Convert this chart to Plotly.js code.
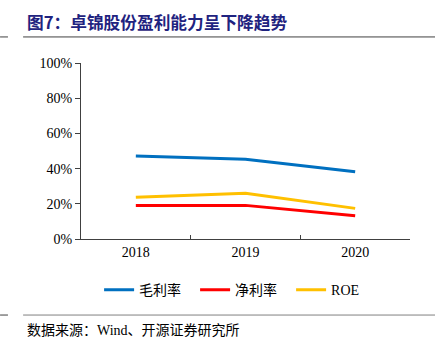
<!DOCTYPE html>
<html><head><meta charset="utf-8">
<script src="https://cdn.plot.ly/plotly-3.0.1.min.js"></script>
<style>html,body{margin:0;padding:0;background:#fff;}#chart{width:443px;height:354px;}</style>
</head><body><div id="chart"></div>
<script>
var years = ['2018', '2019', '2020'];
var grossMargin = [0.472, 0.453, 0.382];
var netMargin = [0.191, 0.191, 0.132];
var roe = [0.237, 0.26, 0.174];
var seriesNames = ['毛利率', '净利率', 'ROE'];
var yTicks = [0, 0.2, 0.4, 0.6, 0.8, 1.0];

var colors = ['#0070C0', '#FF0000', '#FFC000'];
var allSeries = [grossMargin, netMargin, roe];
var traces = allSeries.map(function (s, i) {
  return {x: years, y: s, name: seriesNames[i], type: 'scatter', mode: 'lines',
    line: {color: colors[i], width: 3}, hoverinfo: 'none'};
});

var layout = {
  width: 443, height: 354,
  margin: {l: 81, r: 33, t: 63, b: 115},
  paper_bgcolor: '#fff', plot_bgcolor: '#fff',
  showlegend: true,
  font: {family: '"Liberation Serif", "Noto Sans CJK SC", serif', color: '#000', size: 14},
  xaxis: {type: 'category', range: [-0.5, 2.5], showgrid: false, zeroline: false,
    showline: true, linecolor: '#404040', linewidth: 1,
    ticks: 'inside', ticklen: 4, tickcolor: '#404040', tickson: 'boundaries',
    tickfont: {family: '"Liberation Serif", serif', size: 14, color: '#000'}},
  yaxis: {range: [0, 1], tickvals: yTicks, tickformat: '.0%', showgrid: false, zeroline: false,
    showline: true, linecolor: '#404040', linewidth: 1,
    ticks: 'outside', ticklen: 5, tickcolor: '#404040',
    tickfont: {family: '"Liberation Serif", serif', size: 14, color: '#000'}},
  legend: {orientation: 'h', x: 0.055, xanchor: 'left', y: -0.2, yanchor: 'top',
    font: {family: '"Liberation Serif", "Noto Sans CJK SC", serif', size: 14, color: '#000'},
    entrywidth: 51, itemwidth: 30, bgcolor: 'rgba(0,0,0,0)'},
  annotations: [
    {xref: 'paper', yref: 'paper', x: -0.17, y: 1.235, xanchor: 'left', yanchor: 'middle',
     text: '<b>图7：卓锦股份盈利能力呈下降趋势</b>', showarrow: false,
     font: {family: '"Noto Sans CJK SC", sans-serif', size: 16.7, color: '#1F2380'}},
    {xref: 'paper', yref: 'paper', x: -0.17, y: -0.512, xanchor: 'left', yanchor: 'middle',
     text: '数据来源：<span style="font-family:Liberation Serif">Wind</span>、开源证券研究所', showarrow: false,
     font: {family: '"Noto Sans CJK SC", sans-serif', size: 14, color: '#000'}}
  ],
  shapes: [
    {type: 'line', xref: 'paper', yref: 'paper', x0: -0.176, x1: 1.076, y0: 1.148, y1: 1.148,
     line: {color: '#404040', width: 1}},
    {type: 'line', xref: 'paper', yref: 'paper', x0: -0.246, x1: -0.222, y0: 1.148, y1: 1.148,
     line: {color: '#404040', width: 1}},
    {type: 'line', xref: 'paper', yref: 'paper', x0: -0.176, x1: 1.076, y0: -0.432, y1: -0.432,
     line: {color: '#808080', width: 1}},
    {type: 'line', xref: 'paper', yref: 'paper', x0: -0.246, x1: -0.222, y0: -0.432, y1: -0.432,
     line: {color: '#404040', width: 1}}
  ]
};
Plotly.newPlot('chart', traces, layout, {displayModeBar: false, staticPlot: true});
</script></body></html>
